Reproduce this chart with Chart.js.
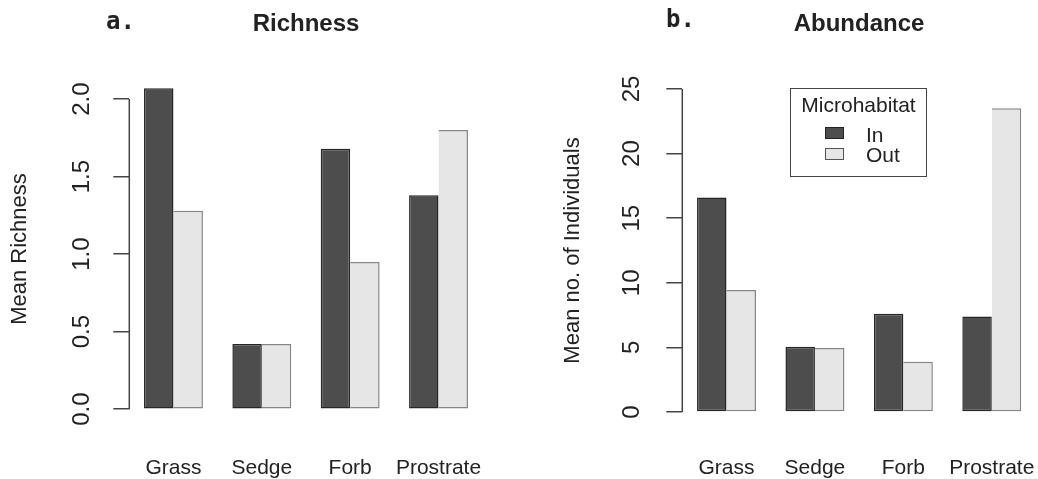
<!DOCTYPE html>
<html>
<head>
<meta charset="utf-8">
<script src="https://cdn.jsdelivr.net/npm/chart.js@4/dist/chart.umd.min.js"></script>
<style>
  html, body { margin: 0; padding: 0; background: #fff; }
  body { width: 1038px; height: 479px; position: relative; overflow: hidden; font-family: "Liberation Sans", Arial, sans-serif; color: #222; }
  .cv { position: absolute; top: 0; }
  .main { position: absolute; font-weight: bold; font-size: 24px; line-height: 24px; white-space: nowrap; transform: translateX(-50%); }
  .tag { position: absolute; font-family: "DejaVu Sans Mono", monospace; font-weight: bold; font-size: 24px; line-height: 24px; }
  .legend { position: absolute; left: 790px; top: 88px; width: 135px; height: 87px; border: 1.5px solid #444; }
  .lg-title { position: absolute; left: 0; width: 100%; text-align: center; font-size: 21px; line-height: 21px; }
  .lg-sw { position: absolute; width: 17px; height: 10px; }
  .lg-txt { position: absolute; font-size: 21px; line-height: 21px; }
</style>
</head>
<body>
<canvas id="c1" class="cv" width="500" height="479" style="left:0px"></canvas>
<canvas id="c2" class="cv" width="485" height="479" style="left:553px"></canvas>

<div class="tag" style="left:106px; top:9px;">a.</div>
<div class="main" style="left:306px; top:11px;">Richness</div>
<div class="tag" style="left:666px; top:7px;">b.</div>
<div class="main" style="left:859px; top:11px;">Abundance</div>

<div class="legend">
  <div class="lg-title" style="top:5px;">Microhabitat</div>
  <div class="lg-sw" style="left:34px; top:38px; background:#4d4d4d; border:1px solid #222;"></div>
  <div class="lg-txt" style="left:75px; top:35px;">In</div>
  <div class="lg-sw" style="left:34px; top:59px; background:#e6e6e6; border:1px solid #555;"></div>
  <div class="lg-txt" style="left:75px; top:55px;">Out</div>
</div>

<script>
// ---- data ----
const categories = ['Grass', 'Sedge', 'Forb', 'Prostrate'];
const seriesNames = ['In', 'Out'];
const richnessIn  = [2.07, 0.42, 1.68, 1.38];
const richnessOut = [1.28, 0.42, 0.95, 1.80];
const abundanceIn  = [16.6, 5.05, 7.6, 7.4];
const abundanceOut = [9.45, 4.95, 3.9, 23.5];
const richnessTicks  = [0, 0.5, 1.0, 1.5, 2.0];
const abundanceTicks = [0, 5, 10, 15, 20, 25];

// ---- styling ----
const IN_FILL = '#4d4d4d', IN_BORDER = '#262626';
const OUT_FILL = '#e6e6e6', OUT_BORDER = '#858585';
const AXIS_COLOR = '#444';
const FONT = '"Liberation Sans", Arial, sans-serif';

const axisLinePlugin = {
  id: 'axisLine',
  afterDraw(chart) {
    const s = chart.scales.y;
    const t = s.ticks;
    if (!t.length) return;
    const ctx = chart.ctx;
    const y0 = s.getPixelForValue(t[0].value);
    const y1 = s.getPixelForValue(t[t.length - 1].value);
    ctx.save();
    ctx.strokeStyle = AXIS_COLOR;
    ctx.lineWidth = 1.5;
    ctx.beginPath();
    ctx.moveTo(s.right, y0);
    ctx.lineTo(s.right, y1);
    ctx.stroke();
    ctx.restore();
  }
};

function makeChart(id, inVals, outVals, tickVals, decimals, yTitle, lay) {
  return new Chart(document.getElementById(id), {
    type: 'bar',
    data: {
      labels: categories,
      datasets: [
        { label: seriesNames[0], data: inVals, backgroundColor: IN_FILL, borderColor: IN_BORDER,
          borderWidth: 1.5, borderSkipped: false },
        { label: seriesNames[1], data: outVals, backgroundColor: OUT_FILL, borderColor: OUT_BORDER,
          borderWidth: { left: 0, top: 1.5, right: 1.5, bottom: 1.5 }, borderSkipped: false }
      ]
    },
    options: {
      responsive: false,
      animation: false,
      devicePixelRatio: 1,
      layout: { padding: { left: 0, top: lay.top, right: lay.right, bottom: 0 } },
      datasets: { bar: { categoryPercentage: 2 / 3, barPercentage: 1.0 } },
      plugins: { legend: { display: false }, tooltip: { enabled: false }, title: { display: false } },
      scales: {
        x: {
          offset: true,
          grid: { display: false, drawTicks: true, tickLength: lay.xDrop },
          border: { display: false },
          ticks: { font: { family: FONT, size: 21 }, color: '#222', padding: 0, maxRotation: 0, autoSkip: false },
          afterFit(s) { s.height = lay.xHeight; s.paddingLeft = 0; s.paddingRight = 0; }
        },
        y: {
          min: lay.min, max: lay.max,
          afterBuildTicks(s) { s.ticks = tickVals.map(v => ({ value: v })); },
          grid: { drawOnChartArea: false, drawTicks: true, tickLength: 16, color: AXIS_COLOR, lineWidth: 1.5 },
          border: { display: false },
          ticks: {
            font: { family: FONT, size: 24 }, color: '#222',
            minRotation: 90, maxRotation: 90, crossAlign: 'center', padding: lay.yPad,
            callback: v => Number(v).toFixed(decimals)
          },
          title: { display: true, text: yTitle, font: { family: FONT, size: 22 }, color: '#222', padding: { top: 6.5, bottom: 0 } },
          afterFit(s) { s.width = 129.3; s.paddingTop = 0; s.paddingBottom = 0; }
        }
      }
    },
    plugins: [axisLinePlugin]
  });
}

makeChart('c1', richnessIn, richnessOut, richnessTicks, 1, 'Mean Richness',
  { top: 76, right: 17.3, min: -0.0826, max: 2.149, xHeight: 57, xDrop: 33.5, yPad: 14.6 });
makeChart('c2', abundanceIn, abundanceOut, abundanceTicks, 0, 'Mean no. of Individuals',
  { top: 76, right: 2, min: -1, max: 26, xHeight: 54, xDrop: 30.5, yPad: 21 });
</script>
</body>
</html>
